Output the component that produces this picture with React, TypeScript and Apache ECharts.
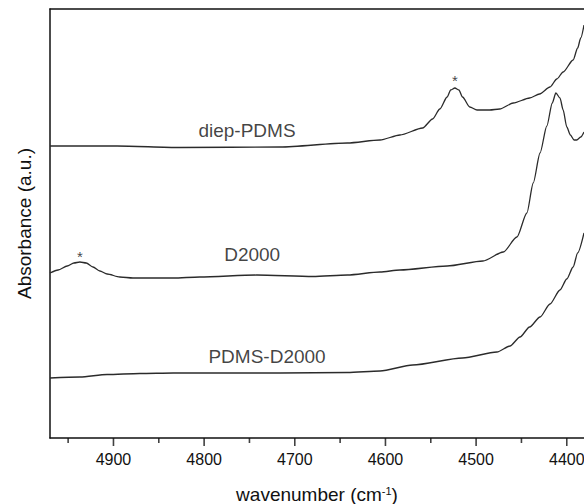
import React, { useEffect, useRef } from "react";
import * as echarts from "echarts";

// wavenumber (cm-1), absorbance (a.u.)
const diepWn = [4970, 4896, 4827, 4716, 4642, 4606, 4584, 4559, 4548, 4540, 4532, 4528, 4523.4, 4519, 4515, 4507, 4499, 4485, 4474, 4459, 4441, 4430, 4418.5, 4411, 4404, 4393, 4388, 4384.6, 4381];
const diepAbs = [2.92, 2.92, 2.905, 2.91, 2.95, 2.98, 3.03, 3.10, 3.19, 3.29, 3.41, 3.48, 3.50, 3.48, 3.41, 3.31, 3.28, 3.28, 3.29, 3.35, 3.40, 3.44, 3.51, 3.59, 3.66, 3.78, 3.90, 4.00, 4.13];

const d2000Wn = [4970, 4961, 4951, 4943.6, 4937, 4930, 4922.6, 4915, 4907, 4893, 4878.5, 4834, 4805, 4742, 4680, 4642, 4606, 4584, 4532, 4492.5, 4470, 4455, 4444, 4437, 4429.5, 4422, 4416, 4412, 4407.5, 4404, 4400, 4396, 4392, 4389, 4384.6, 4381];
const d2000Abs = [1.65, 1.68, 1.72, 1.75, 1.76, 1.75, 1.71, 1.67, 1.64, 1.61, 1.60, 1.60, 1.61, 1.63, 1.615, 1.63, 1.66, 1.68, 1.72, 1.77, 1.86, 2.01, 2.25, 2.55, 2.85, 3.12, 3.35, 3.45, 3.40, 3.28, 3.11, 3.03, 2.98, 2.98, 3.01, 3.06];

const pdWn = [4970, 4937, 4907, 4871, 4834, 4760, 4716, 4642, 4606, 4570, 4515, 4477, 4462.6, 4451.6, 4441, 4429.5, 4418.5, 4407.5, 4400, 4393, 4388, 4381];
const pdAbs = [0.60, 0.61, 0.635, 0.645, 0.65, 0.65, 0.65, 0.655, 0.67, 0.73, 0.80, 0.86, 0.92, 1.01, 1.11, 1.21, 1.34, 1.48, 1.59, 1.71, 1.85, 2.05];

const majorTicks = [4400, 4500, 4600, 4700, 4800, 4900];
const minorTicks = [4450, 4550, 4650, 4750, 4850, 4950];

const curveLabels = [
  { text: "diep-PDMS", wn: 4752.7, abs: 3.08 },
  { text: "D2000", wn: 4747, abs: 1.84 },
  { text: "PDMS-D2000", wn: 4730.6, abs: 0.82 },
];
const starMarks = [
  { wn: 4937, abs: 1.82 },
  { wn: 4523.4, abs: 3.58 },
];

const FONT = "'Liberation Sans', Arial, Helvetica, sans-serif";

function zip(xs: number[], ys: number[]) {
  return xs.map((x, i) => [x, ys[i]]);
}

export default function App() {
  const ref = useRef<HTMLDivElement>(null);
  useEffect(() => {
    if (!ref.current) return;
    const chart = echarts.init(ref.current, null, { renderer: "svg" });
    const lineStyle = { color: "#2b2b2b", width: 1.3 };
    const mkLine = (name: string, xs: number[], ys: number[]) => ({
      name,
      type: "line",
      data: zip(xs, ys),
      showSymbol: false,
      smooth: 0.25,
      smoothMonotone: "x",
      lineStyle,
      silent: true,
    });
    const tickSeries = (name: string, ticks: number[], len: number) => ({
      name,
      type: "scatter",
      silent: true,
      data: ticks.map((v) => [v, 0]),
      symbol: "rect",
      symbolSize: [1.6, len],
      symbolOffset: [0, len / 2],
      itemStyle: { color: "#111" },
      clip: false,
      z: 10,
    });
    chart.setOption({
      animation: false,
      backgroundColor: "#fff",
      grid: {
        left: 50,
        right: 0,
        top: 9,
        bottom: 66,
        show: false,
        containLabel: false,
        outerBoundsMode: "none",
      },
      xAxis: [
        {
          type: "value",
          min: 4381,
          max: 4970,
          inverse: true,
          position: "bottom",
          name: "wavenumber (cm{sup|-1})",
          nameLocation: "middle",
          nameGap: 47,
          nameTextStyle: {
            fontFamily: FONT,
            fontSize: 19,
            color: "#111",
            rich: {
              sup: { fontFamily: FONT, fontSize: 11, color: "#111", verticalAlign: "top" },
            },
          },
          axisLine: { show: true, onZero: false, lineStyle: { color: "#111", width: 1.5 } },
          axisTick: { show: false },
          axisLabel: {
            show: true,
            customValues: majorTicks,
            margin: 13,
            fontFamily: FONT,
            fontSize: 16,
            color: "#111",
            formatter: (v: number) => String(v),
          },
          splitLine: { show: false },
        },
        {
          type: "value",
          min: 4381,
          max: 4970,
          inverse: true,
          position: "top",
          axisLine: { show: true, onZero: false, lineStyle: { color: "#111", width: 1.5 } },
          axisTick: { show: false },
          axisLabel: { show: false },
          splitLine: { show: false },
        },
      ],
      yAxis: [
        {
          type: "value",
          min: 0,
          max: 4.29,
          position: "left",
          name: "Absorbance (a.u.)",
          nameLocation: "middle",
          nameGap: 16,
          nameTextStyle: { fontFamily: FONT, fontSize: 19, color: "#111" },
          axisLine: { show: true, onZero: false, lineStyle: { color: "#111", width: 1.5 } },
          axisTick: { show: false },
          axisLabel: { show: false },
          splitLine: { show: false },
        },
        {
          type: "value",
          min: 0,
          max: 4.29,
          position: "right",
          axisLine: { show: true, onZero: false, lineStyle: { color: "#bbb", width: 1 } },
          axisTick: { show: false },
          axisLabel: { show: false },
          splitLine: { show: false },
        },
      ],
      series: [
        mkLine("diep-PDMS", diepWn, diepAbs),
        mkLine("D2000", d2000Wn, d2000Abs),
        mkLine("PDMS-D2000", pdWn, pdAbs),
        tickSeries("majorTicks", majorTicks, 8),
        tickSeries("minorTicks", minorTicks, 5),
        {
          name: "labels",
          type: "scatter",
          symbolSize: 1,
          itemStyle: { color: "rgba(0,0,0,0)" },
          silent: true,
          data: curveLabels.map((l) => ({
            value: [l.wn, l.abs],
            label: {
              show: true,
              position: "inside",
              formatter: l.text,
              fontFamily: FONT,
              fontSize: 19,
              color: "#111",
            },
          })),
        },
        {
          name: "stars",
          type: "scatter",
          symbolSize: 1,
          itemStyle: { color: "rgba(0,0,0,0)" },
          silent: true,
          data: starMarks.map((s) => ({
            value: [s.wn, s.abs],
            label: {
              show: true,
              position: "inside",
              formatter: "*",
              fontFamily: FONT,
              fontSize: 15,
              color: "#111",
            },
          })),
        },
      ],
    });
    return () => chart.dispose();
  }, []);
  return <div ref={ref} style={{ width: 584, height: 504, position: "absolute", left: 0, top: 0 }} />;
}
